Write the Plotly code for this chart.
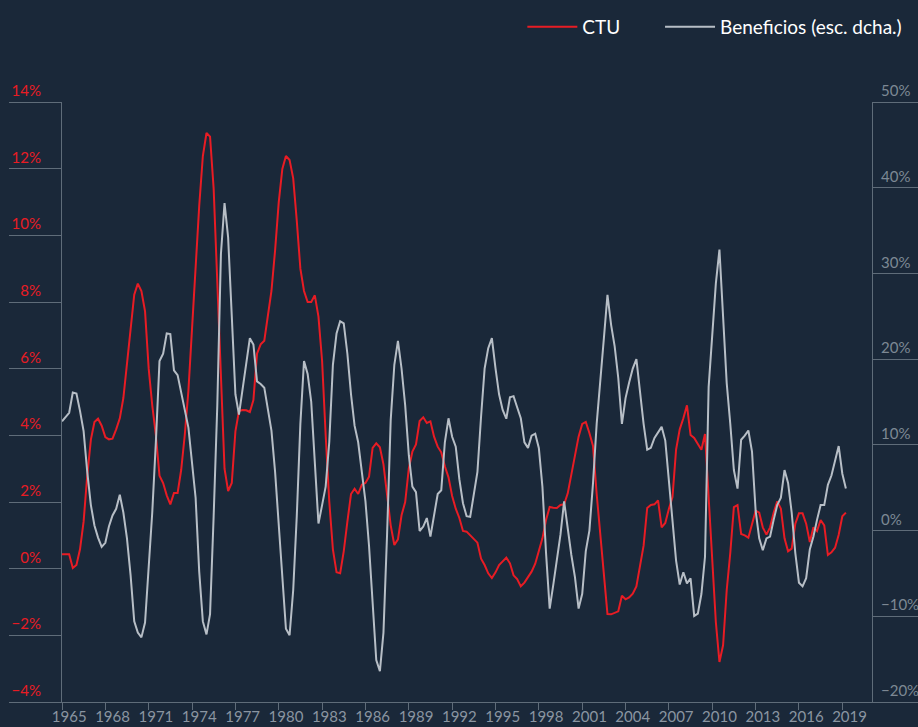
import pandas as pd
import plotly.graph_objects as go

# Quarterly series, 1965Q1 - 2019Q2 (values in %)
ctu = [
    0.43, 0.43, 0.43, 0.02, 0.11, 0.58, 1.41, 2.79, 3.87, 4.40, 4.50, 4.29,
    3.95, 3.88, 3.90, 4.18, 4.51, 5.12, 6.09, 7.14, 8.22, 8.55, 8.33, 7.72,
    6.00, 4.90, 4.01, 2.79, 2.57, 2.20, 1.93, 2.27, 2.27, 2.96, 4.01, 5.34,
    7.22, 9.00, 10.88, 12.38, 13.07, 12.96, 11.40, 8.60, 5.70, 3.00, 2.33, 2.57,
    4.12, 4.73, 4.76, 4.75, 4.70, 5.06, 6.45, 6.73, 6.84, 7.56, 8.33, 9.55,
    10.99, 11.99, 12.38, 12.26, 11.71, 10.44, 9.00, 8.33, 8.00, 8.00, 8.20, 7.56,
    6.23, 4.01, 2.02, 0.58, -0.11, -0.14, 0.52, 1.41, 2.24, 2.40, 2.24, 2.52,
    2.57, 2.76, 3.62, 3.76, 3.64, 3.13, 2.13, 1.30, 0.71, 0.88, 1.60, 2.00,
    3.01, 3.51, 3.73, 4.43, 4.54, 4.37, 4.42, 3.96, 3.66, 3.49, 3.07, 2.74,
    2.18, 1.80, 1.52, 1.13, 1.11, 1.00, 0.88, 0.78, 0.30, 0.11, -0.14, -0.28,
    -0.11, 0.11, 0.22, 0.33, 0.16, -0.20, -0.31, -0.53, -0.42, -0.25, -0.09, 0.15,
    0.50, 0.91, 1.46, 1.85, 1.83, 1.82, 1.91, 1.93, 2.26, 2.82, 3.35, 3.96,
    4.34, 4.40, 4.07, 3.68, 2.24, 1.02, 0.02, -1.36, -1.37, -1.33, -1.28, -0.81,
    -0.92, -0.86, -0.75, -0.53, 0.08, 0.69, 1.82, 1.91, 1.93, 2.05, 1.24, 1.37,
    1.80, 2.15, 3.57, 4.18, 4.51, 4.90, 4.01, 3.92, 3.74, 3.57, 4.04, 2.20,
    0.10, -1.60, -2.80, -2.30, -0.64, 0.47, 1.85, 1.91, 1.04, 1.00, 0.93, 1.35,
    1.74, 1.68, 1.24, 1.02, 1.24, 1.68, 2.02, 1.80, 0.91, 0.52, 0.60, 1.35,
    1.66, 1.66, 1.35, 0.80, 1.24, 1.13, 1.46, 1.30, 0.41, 0.49, 0.63, 1.02,
    1.57, 1.68,
]

beneficios = [
    12.75, 13.18, 13.74, 16.11, 15.98, 13.96, 11.60, 6.85, 2.97, 0.60, -0.82, -1.90,
    -1.43, 0.47, 1.76, 2.54, 4.18, 2.11, -0.91, -5.22, -10.60, -11.90, -12.46, -10.73,
    -4.35, 2.11, 10.30, 19.77, 20.63, 23.00, 22.92, 18.70, 18.14, 15.90, 14.08, 12.02,
    8.14, 3.83, -4.79, -10.60, -12.11, -9.74, 1.68, 14.60, 32.27, 38.21, 34.20, 25.37,
    15.90, 13.53, 16.33, 19.34, 22.44, 21.71, 17.40, 17.10, 16.67, 14.17, 11.67, 6.85,
    0.82, -5.22, -11.46, -12.20, -6.94, 1.68, 12.45, 19.77, 18.26, 15.03, 8.14, 0.82,
    2.97, 5.13, 10.30, 19.34, 23.00, 24.43, 24.17, 20.63, 15.90, 12.24, 10.30, 6.85,
    3.40, -1.77, -9.10, -15.10, -16.40, -11.90, -0.48, 12.88, 19.34, 22.14, 18.91, 14.60,
    8.79, 5.13, 4.48, -0.05, 0.47, 1.46, -0.70, 1.68, 4.26, 4.70, 10.30, 13.10,
    10.94, 9.78, 5.99, 3.19, 1.68, 1.60, 4.26, 6.85, 13.31, 18.91, 21.28, 22.45,
    18.91, 15.90, 14.08, 13.05, 15.55, 15.68, 14.39, 13.10, 10.30, 9.65, 11.07, 11.30,
    9.60, 5.10, -2.60, -9.10, -6.30, -3.50, -0.48, 3.40, 0.17, -2.85, -5.43, -9.10,
    -7.37, -2.40, 0.00, 5.56, 12.45, 16.97, 22.36, 27.50, 24.00, 21.50, 17.80, 12.45,
    15.46, 17.27, 18.90, 20.00, 15.90, 12.45, 9.43, 9.65, 10.80, 11.40, 12.10, 10.50,
    5.99, 1.25, -3.50, -6.30, -4.87, -6.16, -5.56, -9.96, -9.70, -7.40, -3.06, 16.76,
    22.36, 28.80, 32.78, 24.94, 17.19, 12.45, 7.06, 4.90, 10.60, 11.07, 11.67, 9.22,
    2.32, -0.91, -2.29, -0.91, -0.70, 1.25, 2.97, 3.83, 7.06, 5.56, 2.11, -2.63,
    -6.08, -6.51, -5.56, -2.20, -0.70, 1.25, 2.97, 2.97, 5.34, 6.42, 8.14, 9.86,
    6.63, 4.90,
]

fechas = pd.date_range("1965-01-01", periods=len(ctu), freq="QS")

BG = "#1a2839"
AXIS = "#5f6c79"
RED = "#e81c24"
GREY = "#b7bec6"
FONT = "Lato"

fig = go.Figure()
fig.add_trace(
    go.Scatter(
        x=fechas, y=ctu, name="CTU", mode="lines",
        line=dict(color=RED, width=2), yaxis="y", legend="legend",
    )
)
fig.add_trace(
    go.Scatter(
        x=fechas, y=beneficios, name="Beneficios (esc. dcha.)", mode="lines",
        line=dict(color=GREY, width=2), yaxis="y2", legend="legend2",
    )
)

legend_style = dict(
    orientation="h",
    xref="container", yref="container",
    xanchor="left",
    y=0.963, yanchor="middle",
    font=dict(family=FONT, size=19, color="#ffffff"),
    bgcolor="rgba(0,0,0,0)",
    itemwidth=50,
)

fig.update_layout(
    width=918,
    height=727,
    autosize=False,
    paper_bgcolor=BG,
    plot_bgcolor=BG,
    margin=dict(l=62, r=46, t=102, b=25, autoexpand=False),
    font=dict(family=FONT, color="#8a95a1", size=14),
    showlegend=True,
    legend=dict(legend_style, x=0.569),
    legend2=dict(legend_style, x=0.719),
    xaxis=dict(
        type="date",
        range=["1965-01-01", "2021-01-20"],
        tick0="1965-01-01",
        dtick="M36",
        tickformat="%Y",
        ticklabelmode="period",
        showgrid=False,
        zeroline=False,
        showline=True,
        linecolor=AXIS,
        linewidth=1,
        ticks="outside",
        ticklen=7,
        tickcolor=AXIS,
        ticklabelstandoff=-6,
        automargin=False,
        tickfont=dict(family=FONT, size=15, color="#8a95a1"),
    ),
    yaxis=dict(
        range=[-4, 14],
        tick0=-4,
        dtick=2,
        ticksuffix="%",
        showgrid=False,
        zeroline=False,
        showline=True,
        linecolor=AXIS,
        linewidth=1,
        ticks="outside",
        ticklen=52,
        tickwidth=1.2,
        tickcolor=AXIS,
        ticklabelposition="outside top",
        ticklabelstandoff=17,
        automargin=False,
        tickfont=dict(family=FONT, size=15, color=RED),
    ),
    yaxis2=dict(
        range=[-20, 50],
        tick0=-20,
        dtick=10,
        ticksuffix="%",
        overlaying="y",
        side="right",
        showgrid=False,
        zeroline=False,
        showline=True,
        linecolor=AXIS,
        linewidth=1,
        ticks="outside",
        ticklen=46,
        tickwidth=1.2,
        tickcolor=AXIS,
        ticklabelposition="outside top",
        ticklabelstandoff=5,
        automargin=False,
        tickfont=dict(family=FONT, size=15, color="#7d8894"),
    ),
)

# the page body has a default 8px margin; drop it so the figure sits at (0, 0)
fig.write_html(
    "out.html",
    config={"displayModeBar": False},
    post_script="document.body.style.margin = '0';",
)
